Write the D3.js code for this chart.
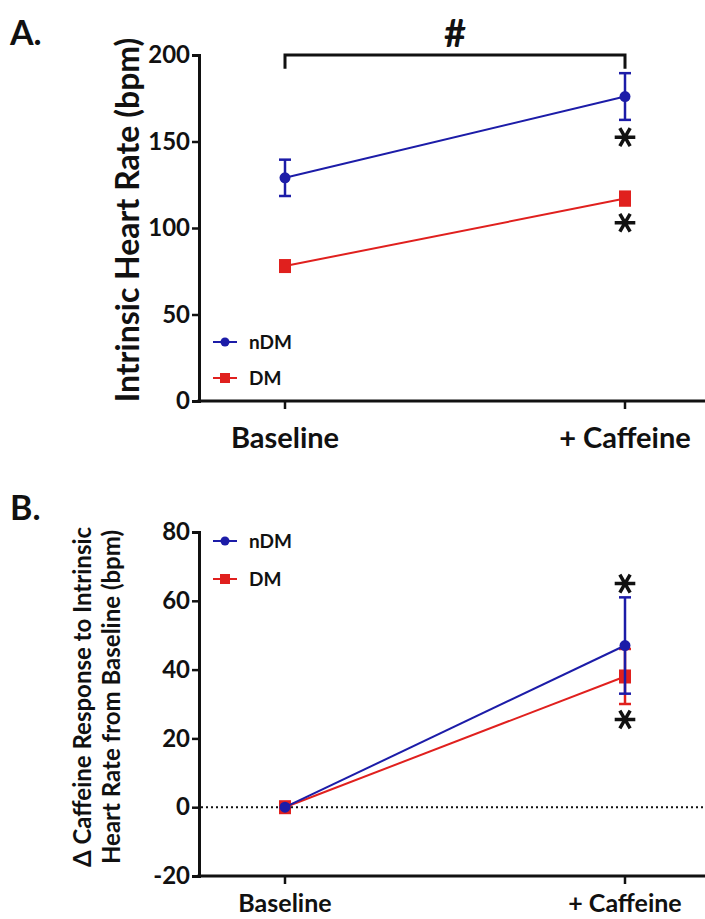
<!DOCTYPE html>
<html>
<head>
<meta charset="utf-8">
<script src="https://cdn.jsdelivr.net/npm/d3@7"></script>
<style>
  body { margin: 0; background: #fff; }
  text { font-family: Lato, "Open Sans", sans-serif; font-weight: 700; fill: #111; }
</style>
</head>
<body>
<svg></svg>
<script>
// data
const categories = ["Baseline", "+ Caffeine"];
const seriesNames = ["nDM", "DM"];
const seriesColors = ["#1c1ca8", "#e0201e"];

// panel A: intrinsic heart rate (bpm), mean and error
const hrMean = { nDM: [129, 176], DM: [78, 117] };
const hrErr  = { nDM: [10.5, 13.5], DM: [3, 4] };
const hrTicks = [0, 50, 100, 150, 200];

// panel B: change from baseline (bpm)
const deltaMean = { nDM: [0, 47], DM: [0, 38] };
const deltaErr  = { nDM: [0, 14], DM: [0, 8] };
const deltaTicks = [-20, 0, 20, 40, 60, 80];

const w = 705, h = 919;
const svg = d3.select("svg").attr("width", w).attr("height", h);

const xScale = d3.scalePoint().domain(categories).range([285, 625]);
const star = d3.symbol().type(d3.symbolAsterisk).size(300);

function drawPanel(opts) {
  const g = svg.append("g");
  const y = opts.y;

  // y axis
  const yAxis = d3.axisLeft(y).tickValues(opts.ticks).tickSize(7).tickPadding(2)
                  .tickFormat(d => String(d));
  const ya = g.append("g").attr("transform", "translate(199,0)").call(yAxis);
  ya.select(".domain").attr("stroke", "#111").attr("stroke-width", 3);
  ya.selectAll(".tick line").attr("stroke", "#111").attr("stroke-width", 2.5);
  ya.selectAll(".tick text").attr("font-size", opts.tickSize).attr("fill", "#111")
    .style("font-family", "Lato, sans-serif").style("font-weight", 700);

  // x axis line across to the right edge
  const yBase = y(opts.ticks[0]);
  g.append("line").attr("x1", 197.5).attr("x2", w).attr("y1", yBase).attr("y2", yBase)
   .attr("stroke", "#111").attr("stroke-width", 3);
  categories.forEach(c => {
    g.append("line").attr("x1", xScale(c)).attr("x2", xScale(c))
     .attr("y1", yBase).attr("y2", yBase + 8).attr("stroke", "#111").attr("stroke-width", 2.5);
    g.append("text").attr("x", xScale(c)).attr("y", yBase + opts.catDy)
     .attr("text-anchor", "middle").attr("font-size", opts.catSize).text(c);
  });

  // zero reference
  if (opts.zeroLine) {
    g.append("line").attr("x1", 201).attr("x2", w).attr("y1", y(0)).attr("y2", y(0))
     .attr("stroke", "#111").attr("stroke-width", 2).attr("stroke-dasharray", "2,3");
  }

  // series, DM first so nDM sits on top
  seriesNames.slice().reverse().forEach(s => {
    const col = seriesColors[seriesNames.indexOf(s)];
    const pts = categories.map((c, i) => ({ c: c, v: opts.mean[s][i], e: opts.err[s][i] }));
    const line = d3.line().x(d => xScale(d.c)).y(d => y(d.v));
    g.append("path").datum(pts).attr("fill", "none").attr("stroke", col)
     .attr("stroke-width", 2).attr("d", line);
    pts.forEach(d => {
      if (d.e > 0) {
        const x = xScale(d.c);
        g.append("line").attr("x1", x).attr("x2", x).attr("y1", y(d.v + d.e)).attr("y2", y(d.v - d.e))
         .attr("stroke", col).attr("stroke-width", 2.5);
        [d.v + d.e, d.v - d.e].forEach(v => {
          g.append("line").attr("x1", x - 6).attr("x2", x + 6).attr("y1", y(v)).attr("y2", y(v))
           .attr("stroke", col).attr("stroke-width", 2.5);
        });
      }
      if (s === "nDM") {
        g.append("circle").attr("cx", xScale(d.c)).attr("cy", y(d.v)).attr("r", 5.5).attr("fill", col);
      } else {
        g.append("rect").attr("x", xScale(d.c) - 6).attr("y", y(d.v) - 7)
         .attr("width", 12).attr("height", 14).attr("fill", col);
      }
    });
  });

  // legend
  seriesNames.forEach((s, si) => {
    const ly = opts.legendY[si], col = seriesColors[si];
    g.append("line").attr("x1", 213).attr("x2", 237).attr("y1", ly).attr("y2", ly)
     .attr("stroke", col).attr("stroke-width", 2);
    if (s === "nDM") g.append("circle").attr("cx", 225).attr("cy", ly).attr("r", 4.5).attr("fill", col);
    else g.append("rect").attr("x", 220).attr("y", ly - 5).attr("width", 10).attr("height", 10).attr("fill", col);
    g.append("text").attr("x", 249).attr("y", ly + 7).attr("font-size", 19).text(s);
  });

  // significance stars
  opts.stars.forEach(st => {
    g.append("path").attr("d", star)
     .attr("transform", "translate(" + xScale(st.c) + "," + y(st.v) + ") rotate(90)")
     .attr("fill", "none").attr("stroke", "#111").attr("stroke-width", 3.5);
  });

  // y title
  opts.yTitle.forEach((t, i) => {
    g.append("text").attr("transform", "translate(" + opts.titleX[i] + "," + opts.titleY + ") rotate(-90)")
     .attr("text-anchor", "middle").attr("font-size", opts.titleSize).text(t);
  });

  // panel letter
  g.append("text").attr("x", 10).attr("y", opts.letterY).attr("font-size", 34).text(opts.letter);
  return g;
}

// panel A
const yA = d3.scaleLinear().domain([0, 200]).range([401, 55]);
const gA = drawPanel({
  y: yA, ticks: hrTicks, mean: hrMean, err: hrErr, tickSize: 24,
  catSize: 29, catDy: 47, legendY: [342, 378],
  stars: [{ c: "+ Caffeine", v: 152.5 }, { c: "+ Caffeine", v: 103 }],
  yTitle: ["Intrinsic Heart Rate (bpm)"], titleX: [139], titleY: 220, titleSize: 32,
  letter: "A.", letterY: 45
});
// bracket for the overall effect
gA.append("path").attr("fill", "none").attr("stroke", "#111").attr("stroke-width", 3)
  .attr("d", d3.line()([[xScale(categories[0]), yA(192)], [xScale(categories[0]), yA(200)],
                       [xScale(categories[1]), yA(200)], [xScale(categories[1]), yA(192)]]));
gA.append("text").attr("x", (xScale(categories[0]) + xScale(categories[1])) / 2).attr("y", 47)
  .attr("text-anchor", "middle").attr("font-size", 38).text("#");

// panel B
const yB = d3.scaleLinear().domain([-20, 80]).range([876, 532]);
drawPanel({
  y: yB, ticks: deltaTicks, mean: deltaMean, err: deltaErr, tickSize: 24,
  catSize: 25, catDy: 36, legendY: [541, 579], zeroLine: true,
  stars: [{ c: "+ Caffeine", v: 65 }, { c: "+ Caffeine", v: 25.5 }],
  yTitle: ["\u0394 Caffeine Response to Intrinsic", "Heart Rate from Baseline (bpm)"],
  titleX: [91, 120], titleY: 697, titleSize: 24,
  letter: "B.", letterY: 520
});
</script>
</body>
</html>
